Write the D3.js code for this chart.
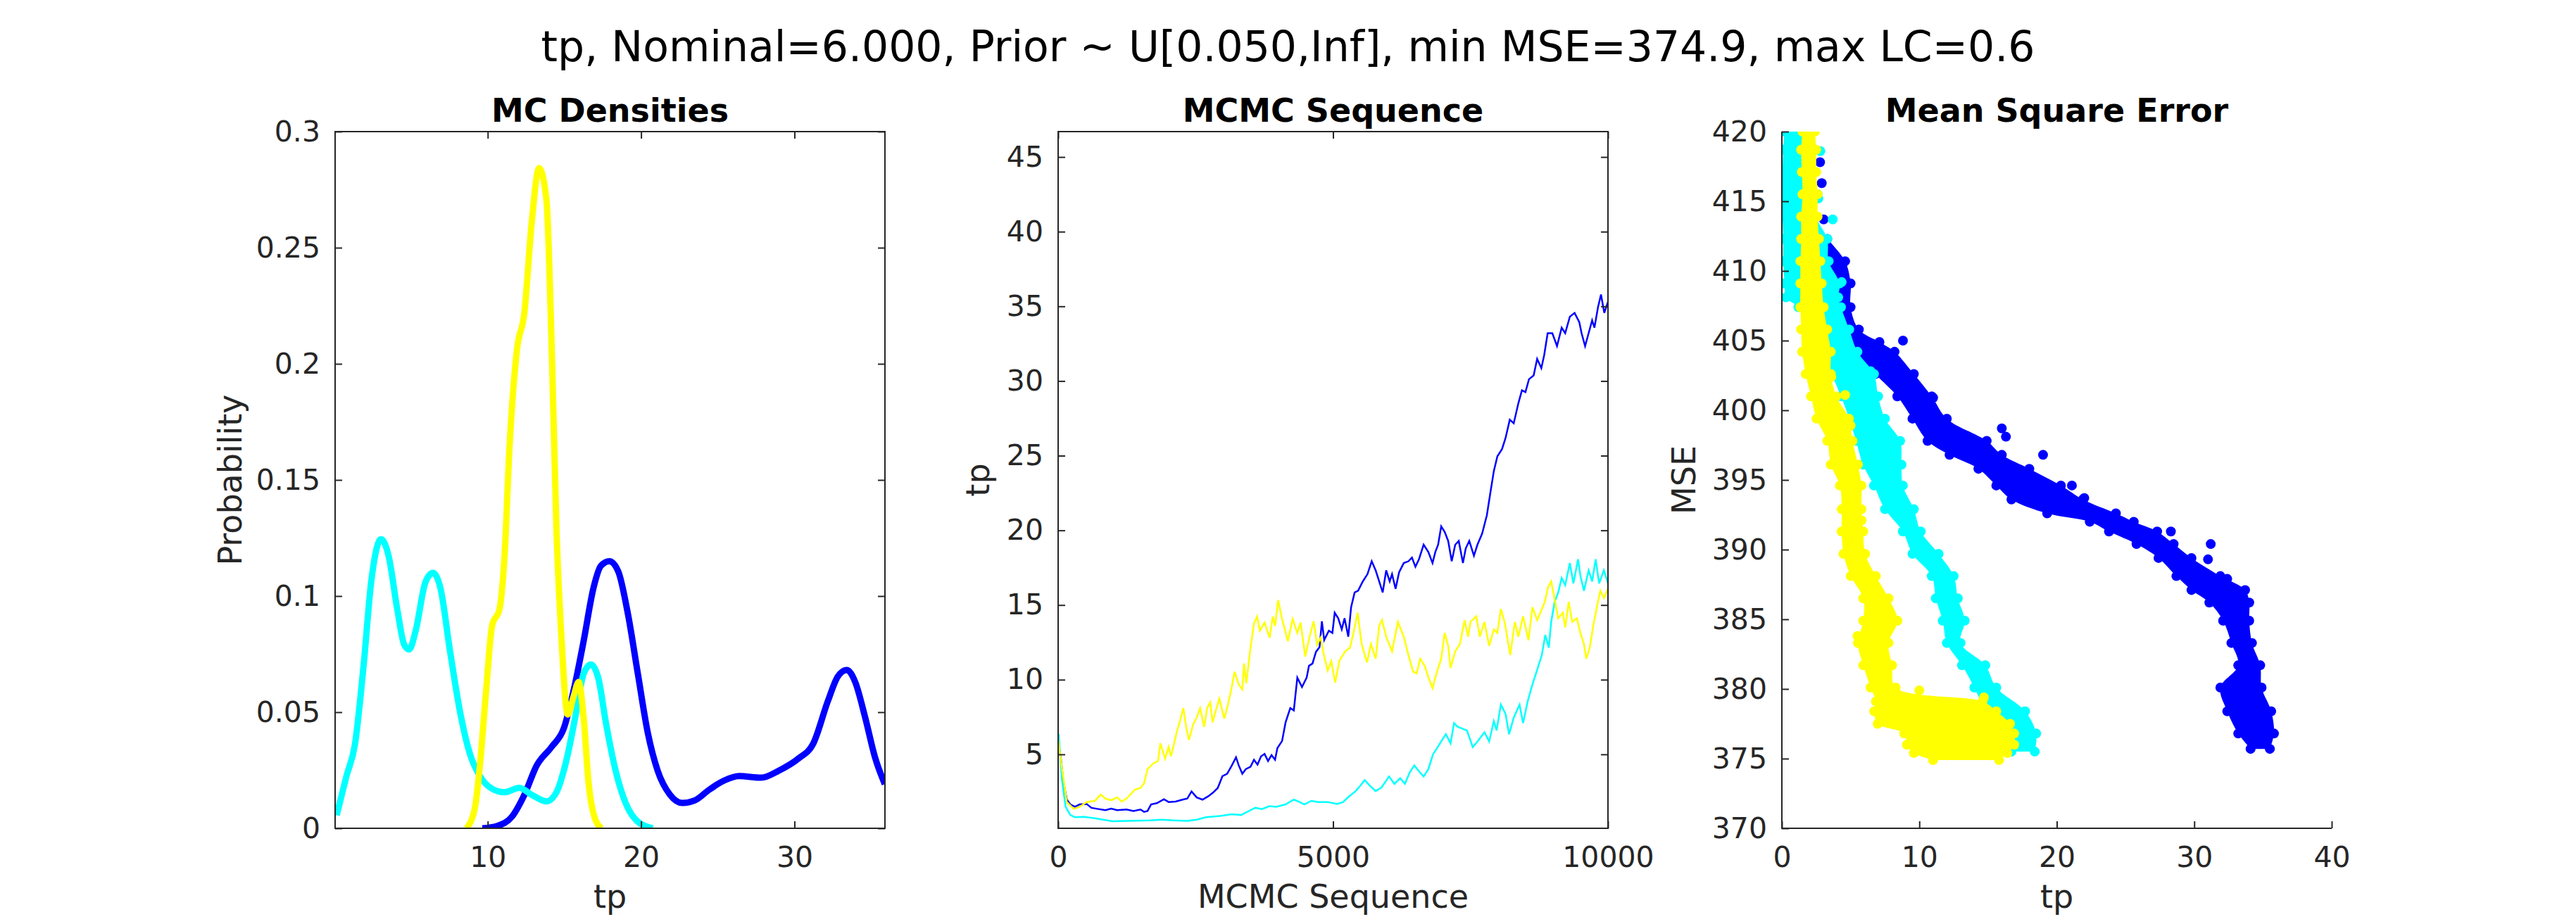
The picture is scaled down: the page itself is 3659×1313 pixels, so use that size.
<!DOCTYPE html>
<html>
<head>
<meta charset="utf-8">
<script src="https://cdn.jsdelivr.net/npm/d3@7"></script>
<style>
  body { margin: 0; background: #fff; }
  text { font-family: "DejaVu Sans", sans-serif; }
</style>
</head>
<body>
<div id="chart"></div>
<script>
// ---- data ----
const chainColors = ["#0000ff", "#00ffff", "#ffff00"];   // blue, cyan, yellow
const suptitle = "tp, Nominal=6.000, Prior ~ U[0.050,Inf], min MSE=374.9, max LC=0.6";

// MC Densities: [tp, probability]
const densBlue = [[9.65,0],[10.61,0.001],[11.58,0.005],[12.39,0.0144],[13.19,0.027],[14.16,0.035],[14.96,0.043],
  [15.61,0.0596],[16.25,0.0805],[16.90,0.1036],[17.38,0.113],[17.93,0.115],[18.51,0.1106],[19.15,0.092],
  [19.79,0.0665],[20.44,0.041],[21.08,0.0248],[21.89,0.0144],[22.69,0.0109],[23.50,0.012],[24.46,0.0167],
  [25.43,0.0206],[26.39,0.0225],[27.84,0.0218],[28.97,0.0248],[30.25,0.030],[31.22,0.0364],[32.19,0.055],
  [32.83,0.0654],[33.41,0.0682],[33.96,0.063],[34.60,0.048],[35.25,0.0306],[35.89,0.019]];
const densCyan = [[0.15,0.0056],[0.79,0.0225],[1.34,0.036],[1.92,0.071],[2.40,0.106],[3.05,0.1245],[3.53,0.1175],
  [4.11,0.094],[4.56,0.079],[4.88,0.077],[5.30,0.085],[5.94,0.106],[6.43,0.110],[6.91,0.1036],[7.55,0.076],
  [8.20,0.050],[8.84,0.032],[9.49,0.0225],[10.29,0.017],[11.1,0.0155],[12.06,0.0174],[12.87,0.0144],
  [13.83,0.0116],[14.48,0.0155],[15.12,0.029],[15.77,0.050],[16.25,0.0665],[16.73,0.0705],[17.22,0.0644],
  [17.70,0.0457],[18.34,0.0248],[18.99,0.0109],[19.79,0.0028],[20.76,0]];
const densYellow = [[8.61,0],[9.16,0.0086],[9.49,0.027],[9.90,0.0596],[10.29,0.0874],[10.77,0.0944],[11.1,0.1176],
  [11.42,0.164],[11.90,0.2057],[12.39,0.222],[12.87,0.261],[13.35,0.2843],[13.83,0.2706],[14.16,0.210],
  [14.48,0.129],[14.80,0.083],[15.22,0.049],[15.61,0.057],[15.93,0.063],[16.25,0.048],[16.57,0.020],
  [17.06,0.003],[17.44,0]];
const densXTicks = [10, 20, 30];
const densYTicks = [0, 0.05, 0.1, 0.15, 0.2, 0.25, 0.3];

// MCMC Sequence: [iteration, tp]
const seqBlue = [[0,6.0],[51,4.64],[94,3.22],[157,1.97],[221,1.65],[306,1.49],[392,1.65],[519,1.68],[604,1.42],
  [732,1.34],[860,1.26],[966,1.37],[1072,1.26],[1243,1.31],[1370,1.21],[1498,1.31],[1562,1.15],[1626,1.21],
  [1690,1.65],[1796,1.73],[1924,2.0],[2009,1.81],[2137,1.84],[2264,1.97],[2349,2.04],[2426,2.52],[2520,2.12],
  [2626,1.97],[2732,2.2],[2817,2.44],[2903,2.75],[2988,3.54],[3073,3.70],[3158,4.25],[3235,4.80],[3286,4.25],
  [3350,3.70],[3413,4.01],[3498,4.17],[3562,4.64],[3626,4.32],[3690,4.87],[3754,5.03],[3818,4.56],[3881,4.95],
  [3945,4.64],[3988,5.42],[4073,5.90],[4137,7.15],[4222,8.10],[4286,7.94],[4350,10.14],[4435,9.51],[4520,10.14],
  [4562,10.93],[4626,11.08],[4690,11.87],[4754,12.18],[4797,13.91],[4839,12.66],[4924,13.28],[4988,13.13],
  [5030,14.48],[5094,14.11],[5158,13.37],[5209,14.11],[5277,12.88],[5328,14.85],[5392,15.84],[5456,15.96],
  [5541,16.58],[5626,17.07],[5703,17.93],[5775,17.32],[5839,16.58],[5903,15.84],[5966,17.32],[6030,16.58],
  [6073,17.07],[6137,16.08],[6201,17.19],[6286,17.81],[6371,17.93],[6435,18.18],[6498,17.56],[6562,18.06],
  [6647,19.04],[6733,18.55],[6809,17.81],[6860,18.55],[6911,19.04],[6967,20.27],[7030,19.90],[7094,19.29],
  [7158,17.93],[7222,19.04],[7286,19.29],[7362,17.81],[7413,18.79],[7477,19.29],[7562,18.30],[7626,19.04],
  [7711,19.78],[7797,21.01],[7860,22.49],[7924,23.97],[7988,24.95],[8073,25.44],[8137,26.18],[8214,27.41],
  [8286,27.17],[8371,28.52],[8435,29.38],[8499,29.26],[8563,30.12],[8648,30.37],[8712,31.48],[8788,30.86],
  [8839,31.72],[8903,33.20],[8988,33.20],[9073,32.34],[9158,33.57],[9222,33.20],[9307,34.31],[9393,34.56],
  [9478,33.94],[9520,33.20],[9584,32.34],[9648,33.20],[9712,34.06],[9754,33.57],[9818,34.93],[9873,35.79],
  [9933,34.56],[10000,35.30]];
const seqCyan = [[0,6.0],[9,6.37],[72,3.22],[136,1.49],[221,0.94],[306,0.79],[477,0.82],[689,0.71],[817,0.63],
  [987,0.52],[1243,0.55],[1668,0.58],[1881,0.63],[2094,0.58],[2349,0.55],[2520,0.63],[2690,0.79],[2945,0.87],
  [3158,0.99],[3328,0.94],[3413,1.10],[3584,1.42],[3711,1.34],[3839,1.53],[3967,1.49],[4137,1.65],[4286,1.97],
  [4392,1.81],[4477,1.65],[4605,1.89],[4733,1.81],[4903,1.81],[5073,1.68],[5179,1.80],[5286,2.17],[5413,2.54],
  [5498,2.91],[5575,3.28],[5669,2.91],[5775,2.54],[5881,2.78],[6018,3.52],[6115,3.03],[6222,3.40],[6307,3.03],
  [6392,3.77],[6477,4.26],[6584,3.77],[6647,3.52],[6733,4.01],[6818,5.0],[6903,5.49],[6988,5.99],[7052,6.35],
  [7137,5.74],[7201,7.09],[7265,6.85],[7350,6.72],[7435,6.60],[7541,5.49],[7626,5.86],[7754,6.48],[7839,5.86],
  [7924,7.22],[7975,6.60],[8052,8.33],[8137,7.71],[8201,6.35],[8286,7.46],[8392,8.33],[8456,7.09],[8541,8.57],
  [8626,9.68],[8712,10.66],[8797,11.65],[8860,13.0],[8924,12.14],[8967,13.87],[9031,15.22],[9095,15.84],
  [9158,16.82],[9222,16.33],[9307,17.81],[9371,16.45],[9456,18.06],[9499,16.95],[9563,15.96],[9648,17.32],
  [9712,16.58],[9776,18.06],[9839,16.45],[9925,17.32],[10000,16.45]];
const seqYellow = [[0,6.0],[9,5.74],[72,4.01],[157,1.81],[285,1.34],[392,1.49],[519,1.81],[668,1.89],[775,2.31],
  [860,2.04],[966,1.93],[1072,2.12],[1158,1.84],[1243,2.04],[1328,2.36],[1392,2.63],[1498,2.75],[1562,3.07],
  [1626,4.01],[1732,4.40],[1817,4.56],[1860,5.74],[1945,4.72],[2009,5.50],[2051,4.87],[2094,5.50],[2158,6.52],
  [2222,7.31],[2277,8.10],[2328,6.84],[2379,5.97],[2456,7.0],[2520,7.47],[2583,8.10],[2656,6.84],[2711,8.10],
  [2766,8.49],[2809,7.15],[2881,8.10],[2932,8.73],[3022,7.39],[3094,8.41],[3158,9.51],[3209,10.53],[3286,9.67],
  [3350,9.35],[3379,11.08],[3422,9.75],[3490,11.87],[3562,13.76],[3618,14.23],[3669,13.28],[3754,13.83],
  [3847,12.81],[3903,14.23],[3945,13.60],[4001,15.33],[4073,14.07],[4179,12.58],[4265,14.07],[4350,13.13],
  [4409,13.83],[4494,11.56],[4579,12.97],[4647,13.91],[4711,12.34],[4775,12.81],[4839,11.56],[4903,10.61],
  [4967,11.24],[5039,9.80],[5115,11.28],[5222,11.90],[5307,12.14],[5371,13.13],[5447,14.48],[5520,12.39],
  [5617,11.16],[5690,12.39],[5775,11.40],[5839,13.62],[5890,13.99],[5966,12.88],[6073,11.90],[6179,13.87],
  [6286,12.88],[6371,11.65],[6456,10.54],[6520,10.42],[6584,11.40],[6669,10.91],[6733,10.17],[6809,9.43],
  [6881,10.42],[6967,11.40],[7030,13.13],[7094,12.27],[7137,10.79],[7222,11.90],[7307,12.39],[7392,13.99],
  [7456,12.88],[7499,13.87],[7605,14.24],[7669,12.88],[7754,13.87],[7839,12.27],[7924,13.37],[7988,13.13],
  [8052,14.73],[8128,13.74],[8222,11.65],[8307,13.87],[8371,12.88],[8456,14.24],[8554,12.64],[8626,14.85],
  [8712,13.99],[8797,14.73],[8852,15.22],[8912,16.21],[8967,16.58],[9031,15.35],[9095,14.11],[9180,14.48],
  [9222,13.50],[9286,15.22],[9350,13.87],[9435,14.11],[9499,13.13],[9563,12.39],[9605,11.40],[9669,12.14],
  [9733,13.62],[9797,14.85],[9861,15.96],[9925,15.47],[10000,16.08]];
const seqXTicks = [0, 5000, 10000];
const seqYTicks = [5, 10, 15, 20, 25, 30, 35, 40, 45];

// Mean Square Error: point bands as [MSE, tp low edge, tp high edge]
const mseBlue = [[412.3,2.6,3.3],[410.7,3.0,4.6],[409.1,3.3,5.0],[407.4,3.8,5.0],[405.8,4.2,5.6],[404.9,5.0,7.1],
  [404.2,5.4,8.2],[402.6,6.8,9.6],[401.0,8.4,10.9],[399.4,9.5,12.0],[397.8,10.6,14.9],[396.8,12.2,16.0],
  [395.8,14.3,18.0],[394.6,15.6,20.3],[393.6,16.7,21.9],[392.6,19.3,24.3],[392.0,22.4,25.6],[391.3,23.8,27.3],
  [390.4,25.8,28.5],[389.4,27.4,29.8],[388.1,28.7,31.9],[387.1,29.8,33.7],[386.2,31.1,34.0],[384.9,32.1,34.0],
  [383.3,32.7,34.2],[381.7,33.2,34.8],[380.1,31.9,34.9],[378.4,32.4,35.6],[376.8,33.2,35.8],[375.7,34.1,35.5]];
const mseCyan = [[420.0,0.2,2.2],[418.7,0.1,2.3],[417.1,0.05,2.4],[415.5,0.05,2.6],[413.9,0.05,2.5],[412.3,0.1,3.3],
  [410.7,0.1,3.4],[409.1,0.2,4.2],[408.1,0.3,4.1],[407.4,1.2,4.3],[405.8,2.3,4.9],[404.2,2.8,5.5],[402.6,3.6,6.7],
  [401.0,4.3,7.0],[399.4,4.9,7.5],[397.8,5.4,8.6],[396.1,5.9,8.7],[394.6,6.7,8.8],[392.9,7.5,9.6],[391.3,8.8,10.1],
  [389.7,9.5,11.4],[388.1,10.9,12.5],[386.5,11.2,12.8],[384.9,11.7,13.3],[383.3,12.0,13.0],[381.7,13.1,14.8],
  [380.1,14.0,15.6],[378.4,14.8,17.7],[376.8,15.9,18.5],[375.5,16.7,18.4]];
const mseYellow = [[420.0,1.5,2.4],[418.7,1.4,2.5],[417.1,1.45,2.5],[415.5,1.5,2.6],[413.9,1.4,2.6],[412.3,1.4,2.7],
  [410.7,1.35,2.8],[409.1,1.34,2.9],[407.4,1.34,3.04],[405.8,1.4,3.3],[404.2,1.47,3.56],[402.6,1.73,3.56],
  [401.0,2.12,3.96],[399.4,2.52,4.88],[397.8,3.30,5.14],[396.1,3.56,5.53],[394.6,4.22,5.79],[392.9,4.35,5.79],
  [391.3,4.35,5.92],[389.7,4.48,6.06],[388.1,5.01,6.84],[386.5,5.92,7.76],[384.9,5.92,8.41],[383.3,5.53,7.76],
  [381.7,5.92,8.02],[380.1,6.45,8.28],[379.1,6.84,14.6],[378.4,6.71,15.6],[377.5,6.97,16.6],[376.8,8.9,16.9],
  [376.0,9.1,16.9],[375.4,9.6,16.4],[374.9,11.0,15.8]];
// stray points outside the bands: [tp, MSE]
const strayBlue = [[2.78,417.8],[2.9,416.3],[3.04,413.7],[3.56,410.5],[4.48,410.6],[4.6,409.4],[8.81,405.0],
  [11.0,400.9],[16.0,398.7],[16.3,398.1],[19.0,396.8],[21.1,394.6],[22.0,393.7],[28.3,391.3],[31.2,390.4],
  [31.0,389.3],[32.4,387.9],[34.9,378.7]];
const strayCyan = [[2.8,418.6],[2.65,415.2],[3.7,413.7],[4.35,409.2],[6.45,402.8]];
const strayYellow = [[2.2,420.0],[3.6,402.4],[4.6,401.1],[5.0,398.9],[5.8,392.1],[5.5,383.8],[10.0,379.9],[14.7,379.4]];
const mseXTicks = [0, 10, 20, 30, 40];
const mseYTicks = [370, 375, 380, 385, 390, 395, 400, 405, 410, 415, 420];

// ---- layout ----
const W = 3659, H = 1313;
const axTop = 187, axBottom = 1177, axW = 781;
const lefts = [476, 1503, 2531];
const axisColor = "#262626";

const svg = d3.select("#chart").append("svg")
  .attr("width", W).attr("height", H)
  .style("display", "block");

svg.append("text")
  .attr("x", W / 2).attr("y", 87)
  .attr("text-anchor", "middle")
  .attr("font-size", "60px")
  .attr("fill", "#000")
  .text(suptitle);

function makeAxes(i, xDomain, yDomain, xTicks, yTicks, opts) {
  let x0 = lefts[i];
  let x = d3.scaleLinear().domain(xDomain).range([x0, x0 + axW]);
  let y = d3.scaleLinear().domain(yDomain).range([axBottom, axTop]);

  let clipId = "clip" + i;
  svg.append("clipPath").attr("id", clipId)
    .append("rect").attr("x", x0).attr("y", axTop).attr("width", axW).attr("height", axBottom - axTop);
  let plot = svg.append("g").attr("clip-path", "url(#" + clipId + ")");
  let g = svg.append("g");

  let fmt = d => String(d);
  g.append("g").attr("transform", "translate(0," + axBottom + ")")
    .call(d3.axisBottom(x).tickValues(xTicks).tickFormat(fmt).tickSizeInner(-10).tickSizeOuter(0).tickPadding(26));
  g.append("g").attr("transform", "translate(" + x0 + ",0)")
    .call(d3.axisLeft(y).tickValues(yTicks).tickFormat(fmt).tickSizeInner(-10).tickSizeOuter(0).tickPadding(21));
  if (opts.box) {
    g.append("g").attr("transform", "translate(0," + axTop + ")")
      .call(d3.axisTop(x).tickValues(xTicks).tickFormat("").tickSizeInner(-10).tickSizeOuter(0));
    g.append("g").attr("transform", "translate(" + (x0 + axW) + ",0)")
      .call(d3.axisRight(y).tickValues(yTicks).tickFormat("").tickSizeInner(-10).tickSizeOuter(0));
  }
  g.selectAll(".domain").remove();
  g.selectAll(".tick line").attr("stroke", axisColor).attr("stroke-width", 2);
  g.selectAll(".tick text").attr("fill", axisColor).attr("font-size", "41px")
    .attr("font-family", "DejaVu Sans");

  // axis frame
  if (opts.box) {
    g.append("rect").attr("x", x0).attr("y", axTop).attr("width", axW).attr("height", axBottom - axTop)
      .attr("fill", "none").attr("stroke", axisColor).attr("stroke-width", 2);
  } else {
    g.append("path").attr("d", "M" + x0 + "," + axTop + "V" + axBottom + "H" + (x0 + axW))
      .attr("fill", "none").attr("stroke", axisColor).attr("stroke-width", 2);
  }

  // titles and labels
  svg.append("text").attr("x", x0 + axW / 2).attr("y", 173)
    .attr("text-anchor", "middle").attr("font-size", "46px").attr("font-weight", "bold")
    .attr("fill", "#000").text(opts.title);
  svg.append("text").attr("x", x0 + axW / 2).attr("y", 1290)
    .attr("text-anchor", "middle").attr("font-size", "46px")
    .attr("fill", axisColor).text(opts.xLabel);
  svg.append("text")
    .attr("transform", "translate(" + opts.yLabelX + "," + ((axTop + axBottom) / 2) + ") rotate(-90)")
    .attr("text-anchor", "middle").attr("font-size", "46px")
    .attr("fill", axisColor).text(opts.yLabel);

  return {x: x, y: y, plot: plot, g: g};
}

// ---- MC Densities ----
let a1 = makeAxes(0, [0.05, 35.9], [0, 0.3], densXTicks, densYTicks,
  {box: true, title: "MC Densities", xLabel: "tp", yLabel: "Probability", yLabelX: 343});
let densLine = d3.line().x(d => a1.x(d[0])).y(d => a1.y(d[1])).curve(d3.curveMonotoneX);
[densBlue, densCyan, densYellow].forEach((s, k) => {
  a1.plot.append("path").datum(s)
    .attr("d", densLine)
    .attr("fill", "none")
    .attr("stroke", chainColors[k])
    .attr("stroke-width", 9)
    .attr("stroke-linejoin", "round");
});

// ---- MCMC Sequence ----
let a2 = makeAxes(1, [0, 10000], [0.05, 46.7], seqXTicks, seqYTicks,
  {box: true, title: "MCMC Sequence", xLabel: "MCMC Sequence", yLabel: "tp", yLabelX: 1405});
let seqLine = d3.line().x(d => a2.x(d[0])).y(d => a2.y(d[1]));
[seqBlue, seqCyan, seqYellow].forEach((s, k) => {
  a2.plot.append("path").datum(s)
    .attr("d", seqLine)
    .attr("fill", "none")
    .attr("stroke", chainColors[k])
    .attr("stroke-width", 2.5)
    .attr("stroke-linejoin", "miter");
});

// ---- Mean Square Error ----
let a3 = makeAxes(2, [0, 40], [370, 420], mseXTicks, mseYTicks,
  {box: false, title: "Mean Square Error", xLabel: "tp", yLabel: "MSE", yLabelX: 2408});
let band = d3.area()
  .y(d => a3.y(d[0]))
  .x0(d => a3.x(d[1]))
  .x1(d => a3.x(d[2]))
  .curve(d3.curveCatmullRom);
let bands = [mseBlue, mseCyan, mseYellow];
let strays = [strayBlue, strayCyan, strayYellow];
bands.forEach((rows, k) => {
  let layer = a3.plot.append("g");
  layer.append("path").datum(rows)
    .attr("d", band)
    .attr("fill", chainColors[k]);
  // band edges drawn as dots
  let edgePts = rows.flatMap(r => [[r[1], r[0]], [r[2], r[0]]]).concat(strays[k]);
  layer.selectAll("circle").data(edgePts).join("circle")
    .attr("cx", d => a3.x(d[0]))
    .attr("cy", d => a3.y(d[1]))
    .attr("r", 7)
    .attr("fill", chainColors[k]);
});
</script>
</body>
</html>
